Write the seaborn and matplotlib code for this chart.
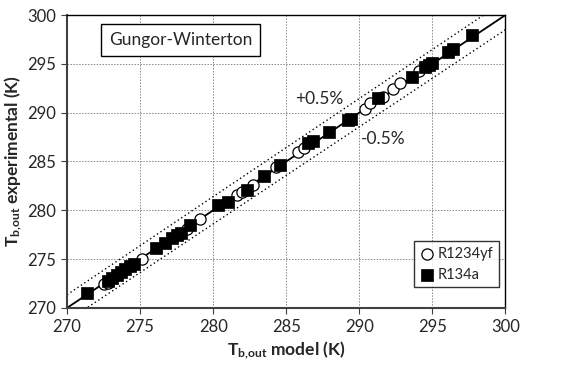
import numpy as np
import pandas as pd
import matplotlib
matplotlib.use("Agg")
import matplotlib.pyplot as plt
import seaborn as sns

# R1234yf (open circles)
yf_model = [272.5, 272.8, 275.1, 277.7, 278.2, 279.1, 281.6, 282.0, 282.7, 284.3,
            285.8, 286.2, 290.4, 290.7, 291.6, 292.3, 292.8, 294.1, 294.6]
yf_exp = [272.5, 272.6, 275.0, 277.6, 278.1, 279.1, 281.6, 281.9, 282.6, 284.4,
          286.0, 286.4, 290.4, 291.0, 291.6, 292.4, 293.0, 294.3, 294.9]
# R134a (filled squares)
a_model = [271.4, 272.8, 273.1, 273.4, 273.7, 274.0, 274.3, 274.6, 276.1, 276.7,
           277.2, 277.5, 277.8, 278.4, 280.3, 281.0, 282.3, 283.5, 284.6, 286.5,
           286.8, 287.9, 289.2, 289.4, 291.3, 293.6, 294.5, 294.8, 295.0, 296.1,
           296.4, 297.7]
a_exp = [271.5, 272.8, 273.1, 273.4, 273.7, 274.0, 274.3, 274.5, 276.1, 276.6,
         277.2, 277.5, 277.7, 278.5, 280.5, 280.9, 282.1, 283.5, 284.6, 286.9,
         287.1, 288.0, 289.2, 289.4, 291.5, 293.7, 294.7, 294.9, 295.1, 296.2,
         296.5, 298.0]

ticks = [270, 275, 280, 285, 290, 295, 300]
band = 0.005

sns.set_style("white")
plt.rcParams['font.family'] = ['Lato', 'DejaVu Sans']
plt.rcParams['mathtext.fontset'] = 'custom'
plt.rcParams['mathtext.rm'] = 'Lato'
plt.rcParams['mathtext.bf'] = 'Lato:bold'

fig = plt.figure(figsize=(5.65, 3.67), dpi=100)
ax = fig.add_axes([0.1186, 0.161, 0.776, 0.798])

line_x = np.array([270.0, 300.0])
ax.plot(line_x, line_x, color='black', lw=1.3, zorder=2)
ax.plot(line_x, line_x * (1 + band), color='black', lw=1.0, ls=(0, (1, 2)), zorder=2)
ax.plot(line_x, line_x * (1 - band), color='black', lw=1.0, ls=(0, (1, 2)), zorder=2)

df_yf = pd.DataFrame({'model': yf_model, 'exp': yf_exp})
df_a = pd.DataFrame({'model': a_model, 'exp': a_exp})
sns.scatterplot(data=df_yf, x='model', y='exp', ax=ax, marker='o', s=65,
                facecolor='white', edgecolor='black', linewidth=0.9,
                label='R1234yf', zorder=3)
sns.scatterplot(data=df_a, x='model', y='exp', ax=ax, marker='s', s=85,
                color='black', edgecolor='black', linewidth=0.5,
                label='R134a', zorder=4)

ax.set_xlim(270, 300)
ax.set_ylim(270, 300)
ax.set_xticks(ticks)
ax.set_yticks(ticks)
ax.grid(True, color='#888888', ls=(0, (1.5, 1.5)), lw=0.7)
ax.set_axisbelow(True)
for s in ax.spines.values():
    s.set_color('black')
    s.set_linewidth(1.0)
ax.spines['bottom'].set_color('#404040')
ax.spines['bottom'].set_linewidth(1.5)
ax.spines['left'].set_color('#404040')
ax.spines['left'].set_linewidth(1.5)
ax.tick_params(axis='both', direction='out', length=4, width=0.8, color='#404040',
               labelsize=12, bottom=True, left=True, pad=4)

ax.set_xlabel(r'$\mathbf{T_{b{,}out}}$ model (K)', fontsize=12.5, fontweight='bold', labelpad=3)
ax.set_ylabel(r'$\mathbf{T_{b{,}out}}$ experimental (K)', fontsize=12.5, fontweight='bold', labelpad=2)

ax.text(0.095, 0.915, 'Gungor-Winterton', transform=ax.transAxes, fontsize=12.5,
        ha='left', va='center',
        bbox=dict(boxstyle='square,pad=0.45', facecolor='white', edgecolor='black', lw=1.0),
        zorder=6)
ax.text(285.6, 291.4, '+0.5%', fontsize=12.5, ha='left', va='center', zorder=6)
ax.text(290.1, 287.3, '-0.5%', fontsize=12.5, ha='left', va='center', zorder=6)

leg = ax.legend(loc='lower right', bbox_to_anchor=(0.985, 0.07), frameon=True,
                fancybox=False, edgecolor='black', fontsize=10.5, handletextpad=0.2,
                borderpad=0.4, labelspacing=0.45, handlelength=1.0, borderaxespad=0)
leg.get_frame().set_linewidth(1.0)
leg.set_zorder(7)

fig.savefig('out.png', dpi=100)
